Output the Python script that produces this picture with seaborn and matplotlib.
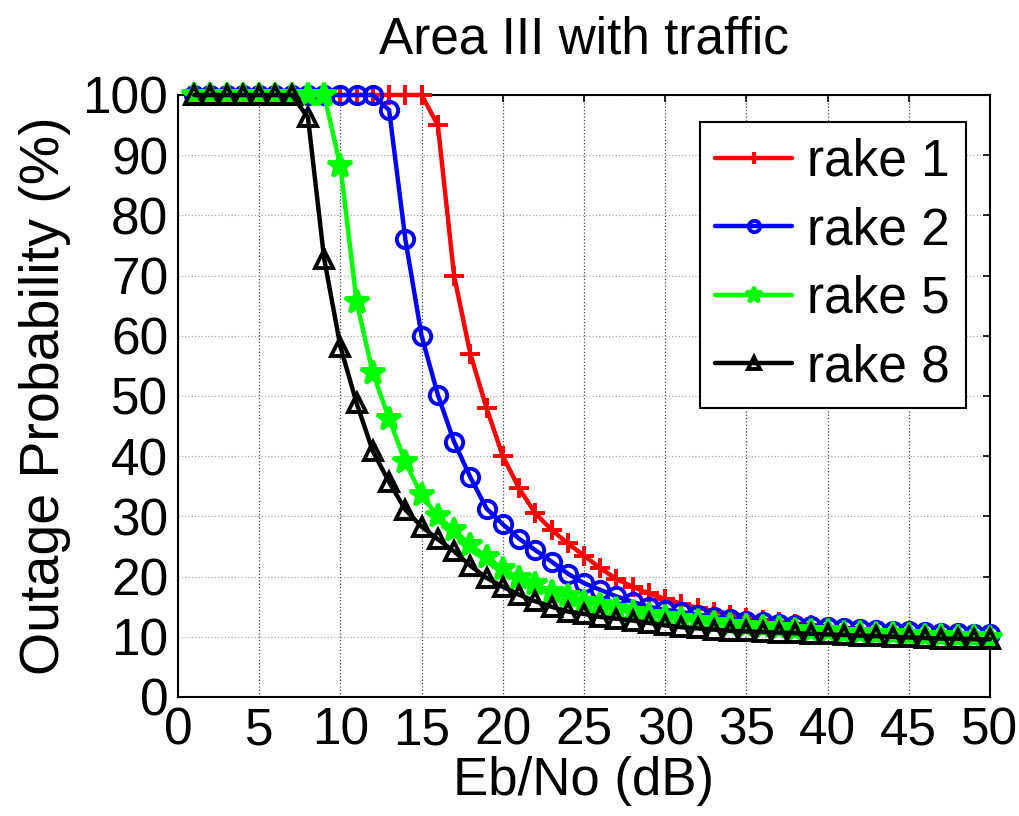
import matplotlib
matplotlib.use("Agg")
import matplotlib.pyplot as plt
import seaborn as sns
import pandas as pd
import numpy as np

# ---- data ----
ebno = list(range(1, 51))
rake1 = [100] * 15 + [95, 70, 57, 48, 40, 34.7, 30.5, 27.8, 25.5, 23.5, 21.4, 19.6, 18.3, 17.2,
                      16.3, 15.5, 14.8, 14.2, 13.7, 13.2, 12.8, 12.5, 12.2, 12.0, 11.7, 11.5,
                      11.3, 11.1, 11.0, 10.8, 10.7, 10.6, 10.5, 10.4, 10.3]
rake2 = [100] * 12 + [97.5, 76, 60, 50.2, 42.4, 36.5, 31.3, 28.7, 26.3, 24.4, 22.5, 20.5, 18.9,
                      17.8, 16.7, 15.8, 15.0, 14.5, 14.1, 13.7, 13.3, 13.0, 12.7, 12.4, 12.2,
                      12.0, 11.8, 11.6, 11.4, 11.3, 11.1, 11.0, 10.9, 10.8, 10.7, 10.6, 10.5, 10.4]
rake5 = [100] * 9 + [88.2, 65.6, 53.8, 46.2, 39, 33.5, 30, 27.7, 25.3, 23.3, 21.3, 19.8, 18.7,
                     17.5, 16.7, 15.8, 15.3, 14.7, 14.2, 13.7, 13.3, 12.9, 12.6, 12.3, 12.0,
                     11.8, 11.6, 11.4, 11.2, 11.0, 10.9, 10.7, 10.6, 10.5, 10.4, 10.3, 10.2,
                     10.1, 10.0, 9.9, 9.8]
rake8 = [100] * 7 + [96.3, 72.8, 58.2, 48.8, 40.8, 35.7, 31.1, 28.3, 26.2, 24.2, 21.8, 19.8,
                     18.3, 17.0, 15.9, 15.0, 14.2, 13.8, 13.3, 13.0, 12.7, 12.3, 11.9, 11.6,
                     11.4, 11.2, 11.0, 10.9, 10.8, 10.7, 10.6, 10.5, 10.4, 10.3, 10.2, 10.1,
                     10.0, 9.9, 9.8, 9.7, 9.7, 9.6, 9.6]
series_names = ["rake 1", "rake 2", "rake 5", "rake 8"]
series_values = [rake1, rake2, rake5, rake8]
x_ticks = list(range(0, 51, 5))
y_ticks = list(range(0, 101, 10))

# ---- style ----
sns.set_theme(style="white")
plt.rcParams["font.family"] = ["Liberation Sans", "DejaVu Sans"]
plt.rcParams["text.color"] = "black"

colors = ["#ff0000", "#0000ff", "#00ff00", "#000000"]
markers = ["+", "o", "*", "^"]
msizes = [14, 12.5, 18, 13.5]
mfaces = ["#ff0000", "none", "#00ff00", "none"]

fig = plt.figure(figsize=(10.2, 8.16), dpi=100)
ax = fig.add_axes([178 / 1020, (816 - 697) / 816, 812 / 1020, 602 / 816])

for name, vals, c, m, ms, mf in zip(series_names, series_values, colors, markers, msizes, mfaces):
    df = pd.DataFrame({"x": ebno, "y": vals})
    sns.lineplot(data=df, x="x", y="y", ax=ax, color=c, linewidth=3.2, marker=m,
                 markersize=ms, markerfacecolor=mf, markeredgecolor=c, markeredgewidth=2.8,
                 label=name, clip_on=False, zorder=3)

ax.set_xlim(0, 50)
ax.set_ylim(0, 100)
ax.set_xticks(x_ticks)
ax.set_yticks(y_ticks)
ax.tick_params(axis="both", direction="in", length=5, width=1.2, labelsize=37,
               top=True, right=True, pad=7, colors="black")
for s in ax.spines.values():
    s.set_color("black")
    s.set_linewidth(1.5)
    s.set_visible(True)

ax.xaxis.grid(True, linestyle=":", color="#444444", linewidth=0.9)
ax.yaxis.grid(True, linestyle=":", color="#aaaaaa", linewidth=0.9)
ax.set_axisbelow(True)

ax.set_xlabel("Eb/No (dB)", fontsize=38, labelpad=0, color="black")
ax.set_ylabel("Outage Probability (%)", fontsize=40, labelpad=8, color="black")
ax.set_title("Area III with traffic", fontsize=37, pad=30, color="black")

leg = ax.legend(loc="upper right", bbox_to_anchor=(0.970, 0.955), fontsize=37,
                frameon=True, fancybox=False, framealpha=1, edgecolor="black",
                handlelength=1.5, handletextpad=0.3, borderpad=0.3, labelspacing=0.38,
                borderaxespad=0, markerscale=0.65)
leg.get_frame().set_linewidth(1.5)
for t in leg.get_texts():
    t.set_color("black")

fig.savefig("out.png", dpi=100, facecolor="white")
